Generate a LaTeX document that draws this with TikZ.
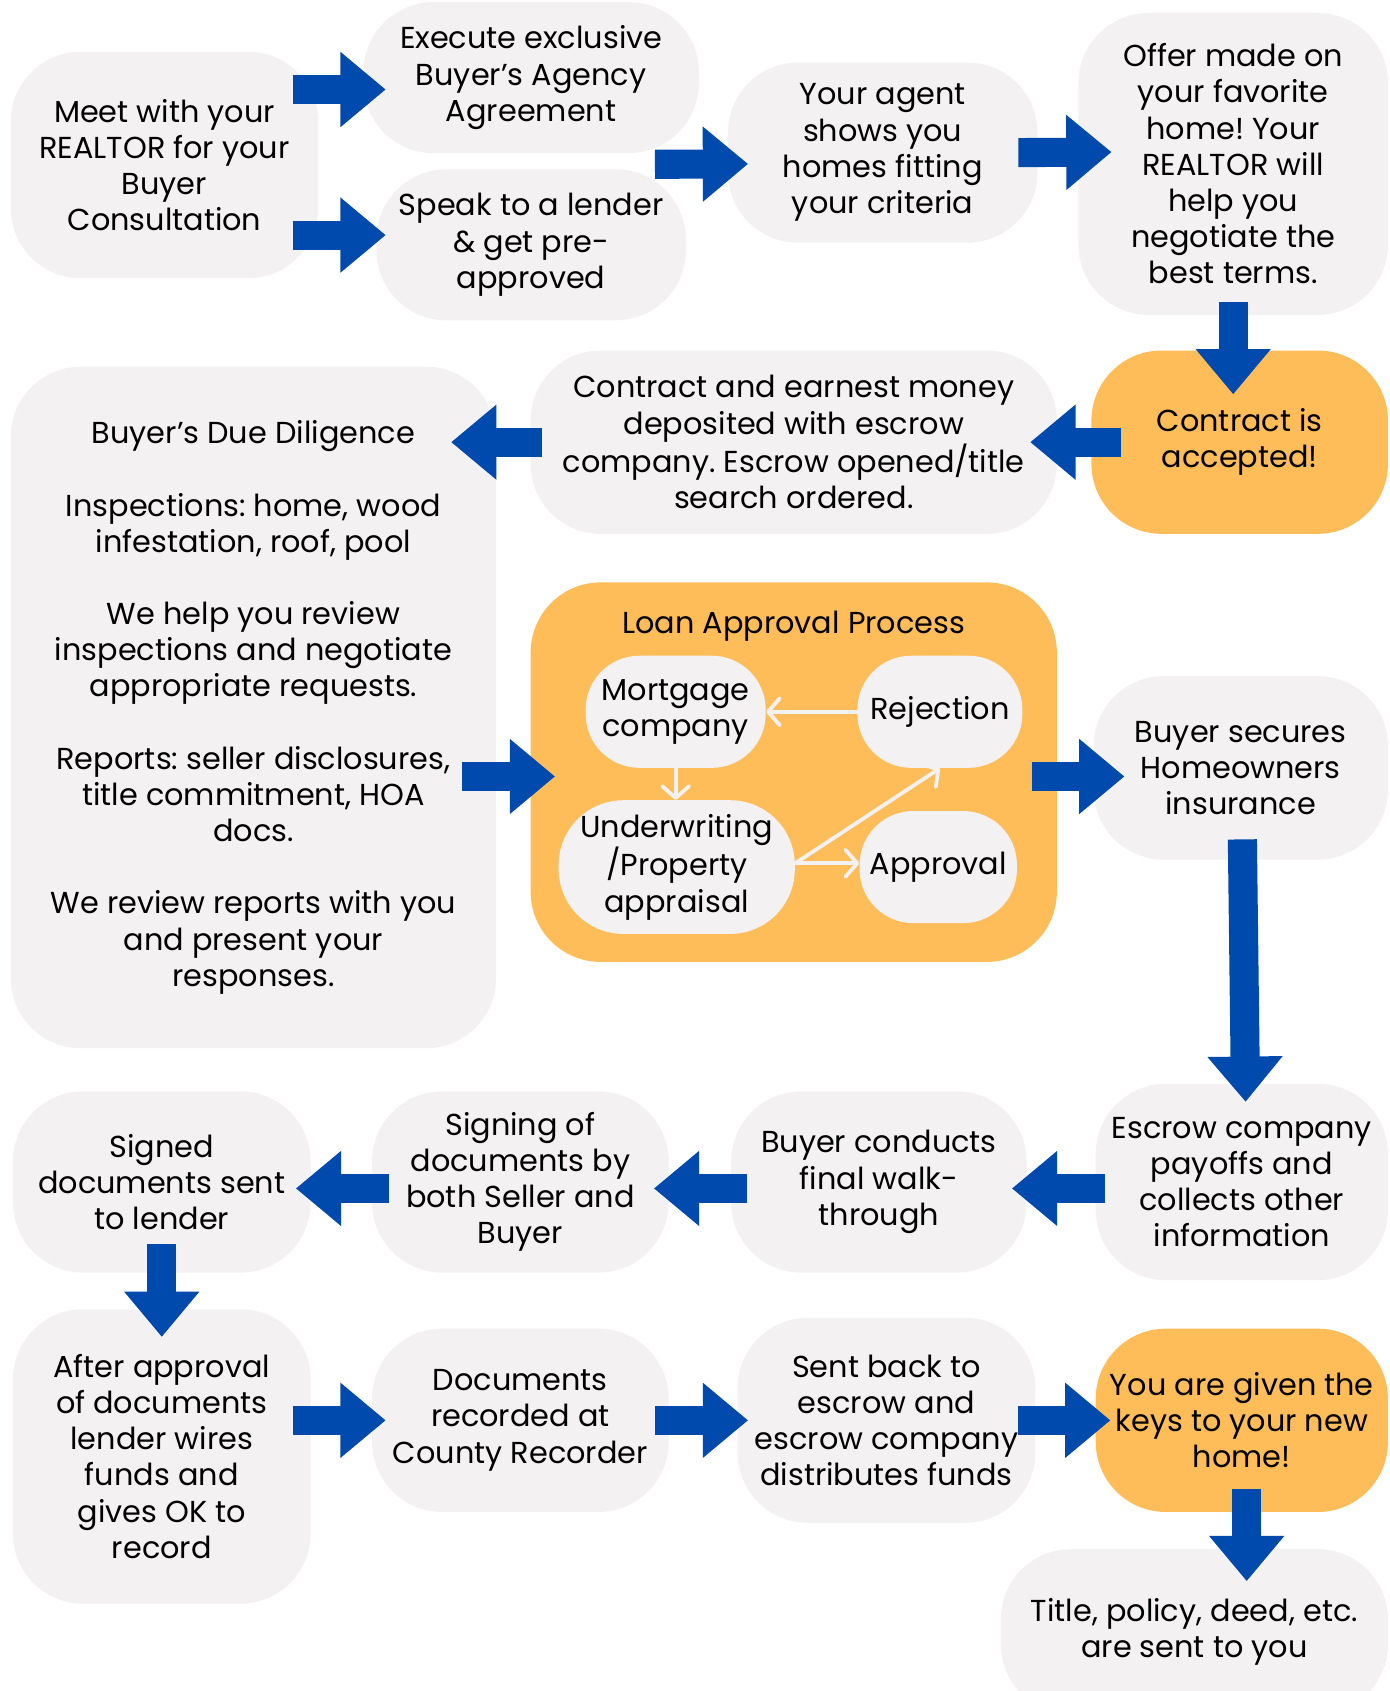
\documentclass[tikz,border=0pt]{standalone}
\usepackage{fontspec}
\setmainfont{Poppins}
\frenchspacing
\usetikzlibrary{arrows.meta}
\pgfdeclarelayer{edgelayer}
\pgfdeclarelayer{nodelayer}
\pgfsetlayers{nodelayer,edgelayer,main}
\definecolor{boxgray}{HTML}{F4F1F2}
\definecolor{sunorange}{HTML}{FFBD59}
\definecolor{deepblue}{HTML}{004AAD}
\tikzstyle{none}=[inner sep=0pt,font=\fontsize{16}{19.1}\selectfont]
\tikzstyle{stage}=[fill=boxgray,rounded corners=1.3cm,align=center,inner sep=0pt,font=\fontsize{16}{19.1}\selectfont]
\tikzstyle{goal}=[stage,fill=sunorange]
\tikzstyle{substage}=[stage,rounded corners=1cm]
\tikzstyle{panel}=[fill=sunorange,rounded corners=1.3cm,inner sep=0pt]
\tikzstyle{flow}=[draw=deepblue,line width=0.54cm,-{Triangle[length=0.84cm,width=1.34cm]}]
\tikzstyle{loopback}=[draw=boxgray,line width=0.07cm,line cap=round,-{Straight Barb[length=0.22cm,width=0.5cm,round]}]

\begin{document}
\begin{tikzpicture}[x=0.02cm,y=-0.02cm]
	\useasboundingbox (0,0) rectangle (1288,1568);
	\begin{pgfonlayer}{nodelayer}
		\fill [white] (0,0) rectangle (1288,1568);
		\node [style=stage, minimum width=5.70cm, minimum height=4.20cm] (0) at (152.5, 153) {Meet with your\\REALTOR for your\\Buyer\\Consultation};
		\node [style=stage, minimum width=6.22cm, minimum height=2.80cm] (1) at (492.5, 72) {Execute exclusive\\Buyer’s Agency\\Agreement};
		\node [style=stage, minimum width=5.74cm, minimum height=2.80cm] (2) at (492.5, 227) {Speak to a lender\\\& get pre-\\approved};
		\node [style=stage, minimum width=5.74cm, minimum height=3.34cm] (3) at (818.5, 141.5) {Your agent\\shows you\\homes fitting\\your criteria};
		\node [style=stage, minimum width=5.74cm, minimum height=5.60cm] (4) at (1143.5, 152) {Offer made on\\your favorite\\home! Your\\REALTOR will\\help you\\negotiate the\\best terms.};
		\node [style=goal, minimum width=5.50cm, minimum height=3.40cm] (5) at (1149.5, 410) {Contract is\\accepted!};
		\node [style=stage, minimum width=9.76cm, minimum height=3.40cm] (6) at (736, 410) {Contract and earnest money\\deposited with escrow\\company. Escrow opened/title\\search ordered.};
		\node [style=stage, minimum width=9.00cm, minimum height=12.64cm] (7) at (235, 656) {Buyer’s Due Diligence\\[0.67cm]Inspections: home, wood\\infestation, roof, pool\\[0.67cm]We help you review\\inspections and negotiate\\appropriate requests.\\[0.67cm]Reports: seller disclosures,\\title commitment, HOA\\docs.\\[0.67cm]We review reports with you\\and present your\\responses.};
		\node [style=panel, minimum width=9.76cm, minimum height=7.04cm] (8) at (736, 716) {};
		\node [style=none] (9) at (736, 581) {Loan Approval Process};
		\node [style=substage, minimum width=3.34cm, minimum height=2.08cm] (10) at (626.5, 660) {Mortgage\\company};
		\node [style=substage, minimum width=3.06cm, minimum height=2.08cm] (11) at (871.5, 660) {Rejection};
		\node [style=substage, rounded corners=1.2cm, minimum width=4.38cm, minimum height=2.48cm] (12) at (627.5, 804) {Underwriting\\/Property\\appraisal};
		\node [style=substage, minimum width=2.92cm, minimum height=2.08cm] (13) at (870, 804) {Approval};
		\node [style=stage, minimum width=5.46cm, minimum height=3.40cm] (14) at (1150.5, 712) {Buyer secures\\Homeowners\\insurance};
		\node [style=stage, minimum width=5.42cm, minimum height=3.64cm] (15) at (1151.5, 1096) {Escrow company\\payoffs and\\collects other\\information};
		\node [style=stage, minimum width=5.48cm, minimum height=3.36cm] (16) at (815, 1096) {Buyer conducts\\final walk-\\through};
		\node [style=stage, minimum width=5.50cm, minimum height=3.36cm] (17) at (482.5, 1096) {Signing of\\documents by\\both Seller and\\Buyer};
		\node [style=stage, minimum width=5.52cm, minimum height=3.36cm] (18) at (150, 1096) {Signed\\documents sent\\to lender};
		\node [style=stage, minimum width=5.52cm, minimum height=5.46cm] (19) at (150, 1350.5) {After approval\\of documents\\lender wires\\funds and\\gives OK to\\record};
		\node [style=stage, minimum width=5.50cm, minimum height=3.40cm] (20) at (482.5, 1317) {Documents\\recorded at\\County Recorder};
		\node [style=stage, minimum width=5.52cm, minimum height=3.80cm] (21) at (822, 1317) {Sent back to\\escrow and\\escrow company\\distributes funds};
		\node [style=goal, minimum width=5.42cm, minimum height=3.40cm] (22) at (1151.5, 1317) {You are given the\\keys to your new\\home!};
		\node [style=stage, minimum width=7.18cm, minimum height=3.06cm] (23) at (1107.5, 1513) {Title, policy, deed, etc.\\are sent to you};
	\end{pgfonlayer}
	\begin{pgfonlayer}{edgelayer}
		\draw [style=flow] ([shift={(-24,-70)}]0.east) to ([shift={(21,11)}]1.west);
		\draw [style=flow] ([shift={(-24,65)}]0.east) to ([shift={(9,-9)}]2.west);
		\draw [style=flow] ([shift={(-41,10)}]1.south east) to ([shift={(19,10.5)}]3.west);
		\draw [style=flow] ([shift={(-18,0)}]3.east) to ([shift={(31,-11)}]4.west);
		\draw [style=flow] ([shift={(0,-12)}]4.south) to ([shift={(-6,41)}]5.north);
		\draw [style=flow] ([shift={(28,0)}]5.west) to ([shift={(-25,0)}]6.east);
		\draw [style=flow] ([shift={(11,0)}]6.west) to ([shift={(-42,-246)}]7.east);
		\draw [style=flow] ([shift={(-32,64)}]7.east) to ([shift={(23,4)}]8.west);
		\draw [style=flow] ([shift={(-23,4)}]8.east) to ([shift={(29,8)}]14.west);
		\draw [style=flow] ([shift={(1.5,-19)}]14.south) to ([shift={(3.5,17)}]15.north);
		\draw [style=flow] ([shift={(9,6)}]15.west) to ([shift={(-14,6)}]16.east);
		\draw [style=flow] ([shift={(15,6)}]16.west) to ([shift={(-14,6)}]17.east);
		\draw [style=flow] ([shift={(16,6)}]17.west) to ([shift={(-14,6)}]18.east);
		\draw [style=flow] ([shift={(0,-27)}]18.south) to ([shift={(0,26)}]19.north);
		\draw [style=flow] ([shift={(-17,-33.5)}]19.east) to ([shift={(13,0)}]20.west);
		\draw [style=flow] ([shift={(-13,0)}]20.east) to ([shift={(10,0)}]21.west);
		\draw [style=flow] ([shift={(-16,0)}]21.east) to ([shift={(14,0)}]22.west);
		\draw [style=flow] ([shift={(4.5,-22)}]22.south) to ([shift={(48.5,30)}]23.north);
		\draw [style=loopback] (11.west) to (10.east);
		\draw [style=loopback] (10.south) to (10.south |- 12.north);
		\draw [style=loopback] ([yshift=2pt]12.east) to ([yshift=2pt]13.west);
		\draw [style=loopback] ([yshift=2pt]12.east) to (11.south);
	\end{pgfonlayer}
\end{tikzpicture}
\end{document}
